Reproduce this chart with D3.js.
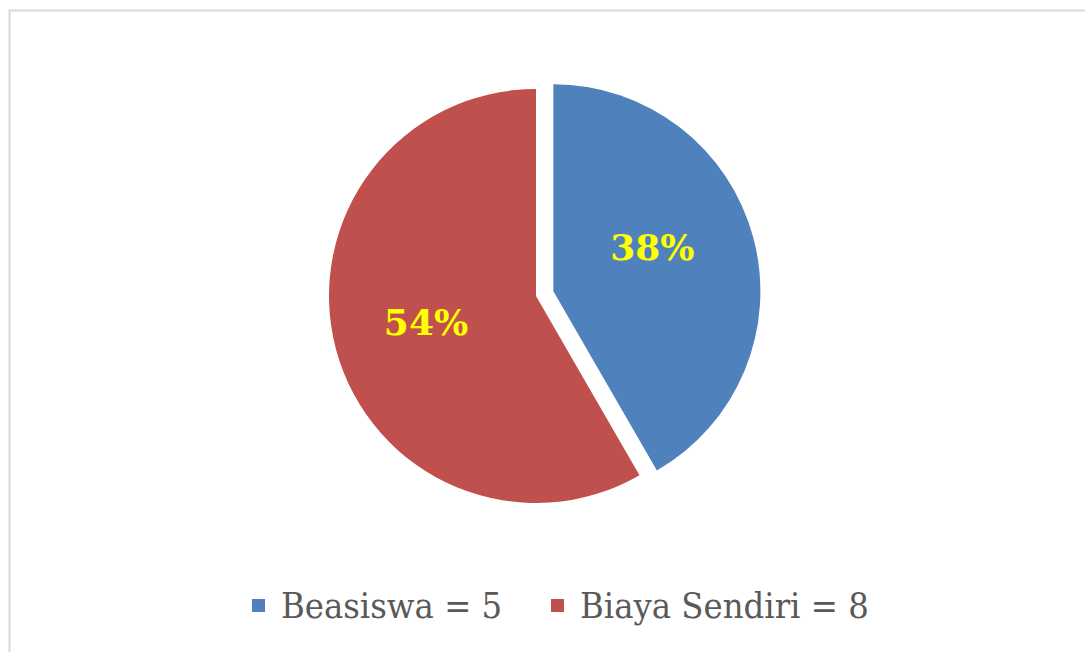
<!DOCTYPE html>
<html>
<head>
<meta charset="utf-8">
<script src="https://cdn.jsdelivr.net/npm/d3@7"></script>
<style>
  body { margin: 0; background: #fff; }
  svg { display: block; }
</style>
</head>
<body>
<svg id="chart"></svg>
<script>
// slice sizes as drawn (5 : 7), labels as printed on the chart
const categories = ["Beasiswa", "Biaya Sendiri"];
const sliceValues = [5, 7];
const pctLabels = ["38%", "54%"];
const legendLabels = ["Beasiswa = 5", "Biaya Sendiri = 8"];
const colors = ["#4F81BD", "#C0504D"];

const width = 1085;
const height = 652;

const svg = d3.select("#chart").attr("width", width).attr("height", height);

// frame
svg.append("path")
  .attr("d", `M9.5,${height} V10.5 H${width}`)
  .attr("fill", "none")
  .attr("stroke", "#d9d9d9")
  .attr("stroke-width", 2);

const cx = 536, cy = 296, radius = 207, explode = 18;

const pie = d3.pie().sort(null).value((d) => d);
const arc = d3.arc().innerRadius(0).outerRadius(radius);
const arcs = pie(sliceValues);

const g = svg.append("g").attr("transform", `translate(${cx},${cy})`);

const slices = g.selectAll("g.slice")
  .data(arcs)
  .join("g")
  .attr("class", "slice")
  .attr("transform", (d, i) => {
    if (i !== 0) return null;
    const mid = (d.startAngle + d.endAngle) / 2;
    return `translate(${Math.sin(mid) * explode},${-Math.cos(mid) * explode})`;
  });

slices.append("path")
  .attr("d", arc)
  .attr("fill", (d, i) => colors[i]);

// label positions inside slices (small nudge like excel's best fit)
const labelArc = d3.arc().innerRadius(radius * 0.55).outerRadius(radius * 0.55);
const labelNudge = [[-11, -15], [0, -3]];
slices.append("text")
  .attr("transform", (d, i) => {
    const [x, y] = labelArc.centroid(d);
    return `translate(${x + labelNudge[i][0]},${y + labelNudge[i][1]})`;
  })
  .attr("text-anchor", "middle")
  .attr("dy", "0.36em")
  .style("font-family", "'DejaVu Serif', serif")
  .style("font-weight", "bold")
  .style("font-size", "36px")
  .style("fill", "#ffff00")
  .text((d, i) => pctLabels[i]);

// legend
const legendX = [252, 551];
const legend = svg.append("g")
  .selectAll("g")
  .data(categories)
  .join("g")
  .attr("transform", (d, i) => `translate(${legendX[i]},599)`);

legend.append("rect")
  .attr("width", 13)
  .attr("height", 13)
  .attr("fill", (d, i) => colors[i]);

legend.append("text")
  .attr("x", 29)
  .attr("y", 19)
  .style("font-family", "'DejaVu Serif Condensed', 'DejaVu Serif', serif")
  .style("font-stretch", "condensed")
  .style("font-size", "36px")
  .style("fill", "#595959")
  .text((d, i) => legendLabels[i]);
</script>
</body>
</html>
